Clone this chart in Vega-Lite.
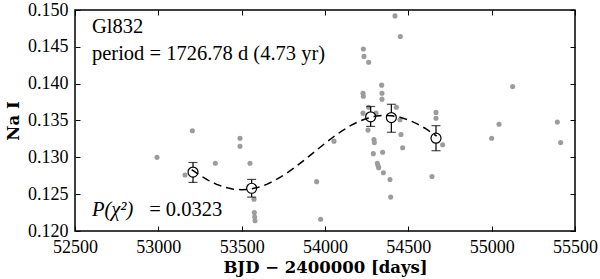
{
  "$schema": "https://vega.github.io/schema/vega-lite/v6.json",
  "autosize": "none",
  "width": 500,
  "height": 221,
  "padding": {"left": 75, "top": 10, "right": 25, "bottom": 48},
  "background": "white",
  "config": {
    "view": {"stroke": "black", "strokeWidth": 1.5},
    "font": "Liberation Serif"
  },
  "datasets": {
    "obs": [
      {"bjd": 52992, "na": 0.1300}, {"bjd": 53204, "na": 0.1336}, {"bjd": 53160, "na": 0.1276},
      {"bjd": 53342, "na": 0.1292}, {"bjd": 53490, "na": 0.1326}, {"bjd": 53490, "na": 0.1315},
      {"bjd": 53550, "na": 0.1292}, {"bjd": 53574, "na": 0.1243}, {"bjd": 53576, "na": 0.1225},
      {"bjd": 53578, "na": 0.1219}, {"bjd": 53580, "na": 0.1214}, {"bjd": 53950, "na": 0.1267},
      {"bjd": 53974, "na": 0.1216}, {"bjd": 54054, "na": 0.1322}, {"bjd": 54420, "na": 0.1492},
      {"bjd": 54452, "na": 0.1464}, {"bjd": 54230, "na": 0.1447}, {"bjd": 54234, "na": 0.1437},
      {"bjd": 54262, "na": 0.1429}, {"bjd": 54340, "na": 0.1398}, {"bjd": 54342, "na": 0.1387},
      {"bjd": 54342, "na": 0.1379}, {"bjd": 54228, "na": 0.1387}, {"bjd": 54230, "na": 0.1383},
      {"bjd": 54262, "na": 0.1368}, {"bjd": 54428, "na": 0.1368}, {"bjd": 54666, "na": 0.1361},
      {"bjd": 54666, "na": 0.1353}, {"bjd": 54228, "na": 0.1360}, {"bjd": 54306, "na": 0.1360},
      {"bjd": 54258, "na": 0.1337}, {"bjd": 54294, "na": 0.1324}, {"bjd": 54296, "na": 0.1320},
      {"bjd": 54290, "na": 0.1305}, {"bjd": 54346, "na": 0.1307}, {"bjd": 54314, "na": 0.1292},
      {"bjd": 54318, "na": 0.1289}, {"bjd": 54322, "na": 0.1286}, {"bjd": 54350, "na": 0.1279},
      {"bjd": 54390, "na": 0.1270}, {"bjd": 54394, "na": 0.1246}, {"bjd": 54450, "na": 0.1351},
      {"bjd": 54456, "na": 0.1331}, {"bjd": 54466, "na": 0.1313}, {"bjd": 54706, "na": 0.1317},
      {"bjd": 54642, "na": 0.1274}, {"bjd": 55000, "na": 0.1326}, {"bjd": 55044, "na": 0.1345},
      {"bjd": 55126, "na": 0.1396}, {"bjd": 55394, "na": 0.1348}, {"bjd": 55414, "na": 0.1320}
    ],
    "means": [
      {"bjd": 53208, "na": 0.1280, "lo": 0.1266, "hi": 0.1293},
      {"bjd": 53560, "na": 0.1258, "lo": 0.1246, "hi": 0.1270},
      {"bjd": 54274, "na": 0.1355, "lo": 0.1342, "hi": 0.1369},
      {"bjd": 54398, "na": 0.1354, "lo": 0.1334, "hi": 0.1372},
      {"bjd": 54666, "na": 0.1326, "lo": 0.1309, "hi": 0.1343}
    ],
    "fit": [
      {"bjd": 53200, "na": 0.12832}, {"bjd": 53250, "na": 0.12755}, {"bjd": 53300, "na": 0.12688},
      {"bjd": 53350, "na": 0.12633}, {"bjd": 53400, "na": 0.12593}, {"bjd": 53450, "na": 0.12568},
      {"bjd": 53500, "na": 0.12560}, {"bjd": 53550, "na": 0.12568}, {"bjd": 53600, "na": 0.12593},
      {"bjd": 53650, "na": 0.12633}, {"bjd": 53700, "na": 0.12688}, {"bjd": 53750, "na": 0.12755},
      {"bjd": 53800, "na": 0.12832}, {"bjd": 53850, "na": 0.12917}, {"bjd": 53900, "na": 0.13007},
      {"bjd": 53950, "na": 0.13099}, {"bjd": 54000, "na": 0.13189}, {"bjd": 54050, "na": 0.13276},
      {"bjd": 54100, "na": 0.13356}, {"bjd": 54150, "na": 0.13426}, {"bjd": 54200, "na": 0.13484},
      {"bjd": 54250, "na": 0.13527}, {"bjd": 54300, "na": 0.13557}, {"bjd": 54350, "na": 0.13569},
      {"bjd": 54400, "na": 0.13565}, {"bjd": 54450, "na": 0.13545}, {"bjd": 54500, "na": 0.13509},
      {"bjd": 54550, "na": 0.13458}, {"bjd": 54600, "na": 0.13395}, {"bjd": 54650, "na": 0.13320},
      {"bjd": 54670, "na": 0.13287}
    ],
    "notes": [
      {"bjd": 52602, "na": 0.14687, "label": "Gl832"},
      {"bjd": 52602, "na": 0.14320, "label": "period = 1726.78 d (4.73 yr)"}
    ],
    "pnote": [
      {"bjd": 52602, "na": 0.1220, "label": "P(χ²)"}
    ],
    "pval": [
      {"bjd": 52945, "na": 0.1220, "label": "= 0.0323"}
    ]
  },
  "layer": [
    {
      "data": {"name": "obs"},
      "mark": {"type": "circle", "size": 26, "color": "#9c9c9c", "opacity": 1},
      "encoding": {
        "x": {
          "field": "bjd", "type": "quantitative",
          "scale": {"domain": [52500, 55500], "nice": false, "zero": false},
          "axis": {
            "orient": "bottom",
            "values": [52500, 53000, 53500, 54000, 54500, 55000, 55500],
            "format": "d", "labelFlush": false, "labelOverlap": false,
            "grid": false, "domain": false,
            "tickSize": -5, "tickColor": "black", "tickWidth": 1,
            "labelPadding": 12, "labelFont": "Liberation Serif", "labelFontSize": 18, "labelColor": "black",
            "title": "BJD − 2400000 [days]", "titleFont": "DejaVu Serif", "titleFontWeight": "bold",
            "titleFontSize": 16.5, "titleColor": "black", "titlePadding": 3
          }
        },
        "y": {
          "field": "na", "type": "quantitative",
          "scale": {"domain": [0.120, 0.150], "nice": false, "zero": false},
          "axis": {
            "orient": "left",
            "values": [0.120, 0.125, 0.130, 0.135, 0.140, 0.145, 0.150],
            "format": ".3f", "labelFlush": false, "labelOverlap": false,
            "grid": false, "domain": false,
            "tickSize": -5, "tickColor": "black", "tickWidth": 1,
            "labelPadding": 12, "labelFont": "Liberation Serif", "labelFontSize": 18, "labelColor": "black",
            "title": "Na I", "titleFont": "DejaVu Serif", "titleFontWeight": "bold",
            "titleFontSize": 16.5, "titleColor": "black", "titlePadding": 6
          }
        }
      }
    },
    {
      "data": {"name": "means"},
      "mark": {"type": "errorbar", "ticks": {"size": 9, "thickness": 1.2}, "rule": {"strokeWidth": 1.2}, "color": "black"},
      "encoding": {
        "x": {"field": "bjd", "type": "quantitative", "axis": null},
        "y": {"field": "lo", "type": "quantitative", "axis": null},
        "y2": {"field": "hi"}
      }
    },
    {
      "data": {"name": "means"},
      "mark": {"type": "point", "shape": "circle", "size": 100, "filled": true, "fill": "white", "stroke": "black", "strokeWidth": 1.2, "opacity": 1},
      "encoding": {
        "x": {"field": "bjd", "type": "quantitative", "axis": null},
        "y": {"field": "na", "type": "quantitative", "axis": null}
      }
    },
    {
      "data": {"name": "fit"},
      "mark": {"type": "line", "color": "black", "strokeWidth": 1.5, "strokeDash": [8, 5]},
      "encoding": {
        "x": {
          "field": "bjd", "type": "quantitative",
          "axis": {"orient": "top", "values": [52500, 53000, 53500, 54000, 54500, 55000, 55500], "labels": false, "title": null, "grid": false, "domain": false, "tickSize": -5, "tickColor": "black", "tickWidth": 1}
        },
        "y": {
          "field": "na", "type": "quantitative",
          "axis": {"orient": "right", "values": [0.120, 0.125, 0.130, 0.135, 0.140, 0.145, 0.150], "labels": false, "title": null, "grid": false, "domain": false, "tickSize": -5, "tickColor": "black", "tickWidth": 1}
        }
      }
    },
    {
      "data": {"name": "notes"},
      "mark": {"type": "text", "align": "left", "baseline": "alphabetic", "font": "Liberation Serif", "fontSize": 20.5, "color": "black"},
      "encoding": {
        "x": {"field": "bjd", "type": "quantitative", "axis": null},
        "y": {"field": "na", "type": "quantitative", "axis": null},
        "text": {"field": "label"}
      }
    },
    {
      "data": {"name": "pnote"},
      "mark": {"type": "text", "align": "left", "baseline": "alphabetic", "font": "Liberation Serif", "fontStyle": "italic", "fontSize": 20.5, "color": "black"},
      "encoding": {
        "x": {"field": "bjd", "type": "quantitative", "axis": null},
        "y": {"field": "na", "type": "quantitative", "axis": null},
        "text": {"field": "label"}
      }
    },
    {
      "data": {"name": "pval"},
      "mark": {"type": "text", "align": "left", "baseline": "alphabetic", "font": "Liberation Serif", "fontSize": 20.5, "color": "black"},
      "encoding": {
        "x": {"field": "bjd", "type": "quantitative", "axis": null},
        "y": {"field": "na", "type": "quantitative", "axis": null},
        "text": {"field": "label"}
      }
    }
  ],
  "resolve": {"axis": {"x": "independent", "y": "independent"}}
}
